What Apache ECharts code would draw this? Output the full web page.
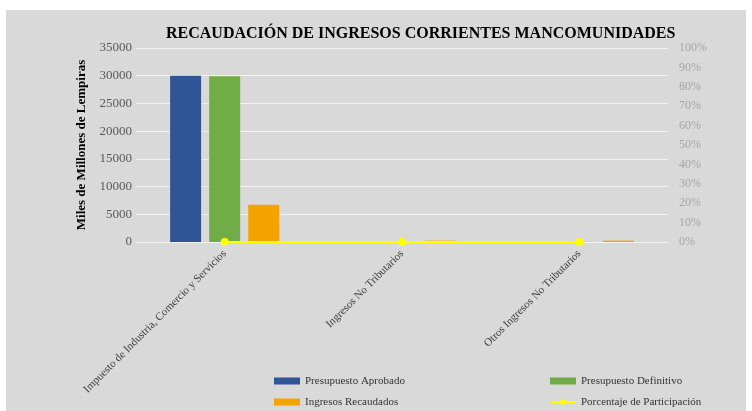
<!DOCTYPE html>
<html>
<head>
<meta charset="utf-8">
<script src="https://cdn.jsdelivr.net/npm/echarts@6/dist/echarts.min.js"></script>
<style>
  body { margin: 0; background: #ffffff; }
  #chart { position: absolute; left: 6px; top: 10px; width: 740px; height: 401px; }
</style>
</head>
<body>
<div id="chart"></div>
<script>
const categories = [
  'Impuesto de Industria, Comercio y Servicios',
  'Ingresos No Tributarios',
  'Otros Ingresos No Tributarios'
];
const presupuestoAprobado = [30000, 20, 20];
const presupuestoDefinitivo = [29900, 20, 20];
const ingresosRecaudados = [6700, 250, 250];
const porcentajeParticipacion = [0, 0, 0];

const serif = '"Liberation Serif", "DejaVu Serif", serif';

const chart = echarts.init(document.getElementById('chart'));

const legendText = { fontFamily: serif, fontSize: 11, color: '#333333', lineHeight: 12 };

const option = {
  backgroundColor: '#d9d9d9',
  textStyle: { fontFamily: serif },
  title: {
    text: 'RECAUDACIÓN DE INGRESOS CORRIENTES MANCOMUNIDADES',
    left: 155,
    top: 11,
    textStyle: { fontFamily: serif, fontSize: 16, fontWeight: 'bold', color: '#000000' }
  },
  legend: [
    {
      orient: 'vertical',
      left: 268,
      top: 365,
      padding: 0,
      itemWidth: 26,
      itemHeight: 7,
      itemGap: 9,
      data: [
        { name: 'Presupuesto Aprobado', icon: 'rect' },
        { name: 'Ingresos Recaudados', icon: 'rect' }
      ],
      textStyle: legendText
    },
    {
      orient: 'vertical',
      left: 543,
      top: 365,
      padding: 0,
      itemWidth: 26,
      itemHeight: 7,
      itemGap: 9,
      data: [
        { name: 'Presupuesto Definitivo', icon: 'rect' },
        'Porcentaje de Participación'
      ],
      textStyle: legendText
    }
  ],
  grid: { left: 130, right: 78, top: 38, bottom: 169 },
  xAxis: {
    type: 'category',
    data: categories,
    axisLine: { lineStyle: { color: '#f2f2f2', width: 1 } },
    axisTick: { show: false },
    axisLabel: {
      rotate: 45,
      interval: 0,
      margin: 10,
      fontFamily: serif,
      fontSize: 11,
      color: '#404040'
    }
  },
  yAxis: [
    {
      type: 'value',
      min: 0,
      max: 35000,
      interval: 5000,
      name: 'Miles de Millones de Lempiras',
      nameLocation: 'middle',
      nameGap: 48,
      nameTextStyle: { fontFamily: serif, fontSize: 13, fontWeight: 'bold', color: '#000000' },
      axisLine: { show: false },
      axisTick: { show: false },
      axisLabel: {
        margin: 4,
        fontFamily: serif,
        fontSize: 13,
        color: '#595959',
        formatter: v => String(v)
      },
      splitLine: { lineStyle: { color: '#f2f2f2', width: 1 } }
    },
    {
      type: 'value',
      min: 0,
      max: 1,
      interval: 0.1,
      axisLine: { show: false },
      axisTick: { show: false },
      splitLine: { show: false },
      axisLabel: {
        margin: 11,
        fontFamily: serif,
        fontSize: 12,
        color: '#a6a6a6',
        formatter: v => Math.round(v * 100) + '%'
      }
    }
  ],
  series: [
    {
      name: 'Presupuesto Aprobado',
      type: 'bar',
      data: presupuestoAprobado,
      barWidth: 31,
      barGap: '26%',
      itemStyle: { color: '#2f5597' }
    },
    {
      name: 'Presupuesto Definitivo',
      type: 'bar',
      data: presupuestoDefinitivo,
      barWidth: 31,
      barGap: '26%',
      itemStyle: { color: '#70ad47' }
    },
    {
      name: 'Ingresos Recaudados',
      type: 'bar',
      data: ingresosRecaudados,
      barWidth: 31,
      barGap: '26%',
      itemStyle: { color: '#f5a300' }
    },
    {
      name: 'Porcentaje de Participación',
      type: 'line',
      yAxisIndex: 1,
      data: porcentajeParticipacion,
      symbol: 'circle',
      symbolSize: 8,
      lineStyle: { color: '#ffff00', width: 2 },
      itemStyle: { color: '#ffff00' }
    }
  ]
};

chart.setOption(option);
</script>
</body>
</html>
